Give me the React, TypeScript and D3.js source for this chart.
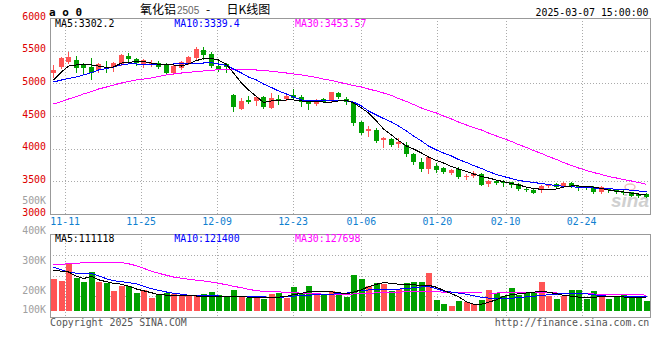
import React from "react";
import * as d3 from "d3";

const dates = [
  "2024-11-07","2024-11-08","2024-11-11","2024-11-12","2024-11-13","2024-11-14","2024-11-15","2024-11-18","2024-11-19","2024-11-20",
  "2024-11-21","2024-11-22","2024-11-25","2024-11-26","2024-11-27","2024-11-28","2024-11-29","2024-12-02","2024-12-03","2024-12-04",
  "2024-12-05","2024-12-06","2024-12-09","2024-12-10","2024-12-11","2024-12-12","2024-12-13","2024-12-16","2024-12-17","2024-12-18",
  "2024-12-19","2024-12-20","2024-12-23","2024-12-24","2024-12-25","2024-12-26","2024-12-27","2024-12-30","2024-12-31","2025-01-02",
  "2025-01-03","2025-01-06","2025-01-07","2025-01-08","2025-01-09","2025-01-10","2025-01-13","2025-01-14","2025-01-15","2025-01-16",
  "2025-01-17","2025-01-20","2025-01-21","2025-01-22","2025-01-23","2025-01-24","2025-01-27","2025-02-05","2025-02-06","2025-02-07",
  "2025-02-10","2025-02-11","2025-02-12","2025-02-13","2025-02-14","2025-02-17","2025-02-18","2025-02-19","2025-02-20","2025-02-21",
  "2025-02-24","2025-02-25","2025-02-26","2025-02-27","2025-02-28","2025-03-03","2025-03-04","2025-03-05","2025-03-06","2025-03-07",
];

const opens = [
  5163,5245,5327,5357,5281,5255,5204,5255,5250,5291, 5423,5368,5296,5290,5307,5281,5154,5230,5307,5392,
  5510,5449,5270,5296,4821,4607,4745,4734,4795,4627, 4756,4756,4821,4798,4730,4679,4760,4745,4857,4760,
  4710,4413,4278,4286,4140,4143,4071,4056,3918,3801, 3689,3735,3704,3635,3696,3559,3582,3617,3459,3505,
  3485,3485,3459,3383,3367,3360,3429,3464,3416,3475, 3429,3418,3406,3344,3378,3367,3337,3337,3299,3306,
];
const highs = [
  5281,5399,5484,5418,5307,5383,5307,5342,5331,5449, 5469,5392,5373,5357,5342,5311,5281,5346,5418,5552,
  5552,5484,5346,5316,4837,4776,4806,4806,4806,4857, 4821,4814,4909,4821,4745,4753,4776,4867,4867,4795,
  4714,4423,4352,4312,4174,4168,4159,4098,3934,3853, 3888,3781,3719,3689,3712,3612,3651,3635,3520,3520,
  3513,3497,3467,3406,3383,3451,3464,3475,3490,3490, 3436,3433,3421,3429,3398,3383,3360,3344,3321,3314,
];
const lows = [
  5102,5230,5307,5178,5154,5066,5173,5166,5189,5281, 5307,5281,5250,5265,5235,5143,5143,5215,5296,5380,
  5373,5255,5193,5178,4584,4600,4694,4676,4627,4622, 4684,4745,4760,4658,4607,4661,4707,4737,4771,4679,
  4362,4225,4199,4098,4030,4041,4021,3888,3765,3663, 3632,3648,3623,3612,3551,3531,3566,3439,3436,3459,
  3436,3409,3375,3352,3317,3337,3406,3406,3406,3406, 3360,3383,3329,3321,3344,3321,3299,3268,3260,3257,
];
const closes = [
  5204,5383,5399,5239,5239,5163,5291,5227,5316,5434, 5368,5316,5350,5304,5255,5163,5265,5331,5408,5521,
  5434,5270,5227,5245,4642,4730,4719,4795,4642,4776, 4734,4806,4771,4719,4684,4745,4719,4863,4795,4710,
  4398,4244,4301,4122,4159,4056,4098,3918,3801,3689, 3877,3669,3638,3669,3566,3589,3628,3448,3505,3475,
  3470,3451,3387,3363,3326,3436,3444,3416,3479,3421, 3413,3398,3344,3406,3360,3337,3317,3276,3283,3265,
];

const ma5 = [
  5051,5173,5265,5281,5281,5281,5265,5242,5250,5311, 5319,5334,5334,5311,5291,5281,5281,5265,5296,5349,
  5377,5383,5357,5288,5158,5005,4898,4798,4707,4730, 4737,4745,4745,4730,4722,4719,4714,4714,4730,4737,
  4699,4622,4546,4423,4301,4209,4125,4041,3995,3934, 3872,3819,3781,3727,3689,3650,3612,3574,3551,3520,
  3494,3467,3444,3413,3390,3378,3378,3383,3413,3429, 3429,3421,3413,3390,3367,3348,3337,3321,3306,3302.2,
];
const ma10 = [
  5020,5051,5074,5097,5128,5163,5204,5227,5250,5281, 5296,5296,5288,5281,5281,5288,5296,5304,5307,5307,
  5311,5316,5296,5273,5219,5158,5097,5051,4990,4936, 4883,4837,4791,4745,4740,4737,4734,4733,4730,4730,
  4714,4653,4577,4515,4462,4408,4347,4270,4194,4117, 4041,3980,3934,3888,3834,3788,3742,3696,3650,3605,
  3574,3543,3513,3497,3482,3467,3451,3436,3425,3416, 3410,3404,3398,3393,3386,3380,3373,3364,3352,3339.4,
];
const ma30 = [
  4684,4722,4760,4798,4837,4875,4913,4944,4974,5005, 5028,5051,5066,5082,5105,5128,5143,5158,5169,5178,
  5189,5199,5209,5215,5215,5215,5212,5204,5196,5186, 5173,5158,5143,5128,5112,5089,5066,5043,5020,4990,
  4967,4944,4913,4883,4852,4814,4768,4722,4676,4622, 4584,4546,4500,4454,4408,4362,4324,4286,4240,4194,
  4156,4110,4064,4018,3972,3926,3880,3834,3788,3742, 3704,3666,3635,3605,3574,3551,3528,3505,3482,3453.57,
];

// volume in thousands of lots
const volumes = [
  259,238,379,264,232,310,232,224,160,198, 198,144,166,104,131,144,134,123,123,123,
  134,152,126,118,166,123,104,112,96,134, 144,102,190,139,198,139,139,158,139,112,
  286,254,198,222,214,158,179,222,230,230, 302,86,54,43,78,70,54,86,166,144,
  118,182,126,144,150,230,123,96,118,166, 166,96,158,126,94,112,134,123,118,80,
];
const volMa5 = [
  326,318,312,278,259,278,250,234,222,214, 198,176,162,146,131,127,126,123,122,120,
  120,119,118,118,118,116,111,107,107,107, 110,118,130,142,154,155,158,154,146,138,
  150,170,194,214,227,222,214,211,209,206, 206,190,166,138,114,74,54,55,70,90,
  118,130,138,144,151,158,150,138,126,118, 111,107,110,115,115,114,112,110,108,107,
];
const volMa10 = [
  350,330,310,302,299,299,282,258,242,234, 227,218,198,178,166,152,142,134,126,124,
  122,121,120,119,119,118,118,115,113,110, 107,114,119,126,127,129,130,134,139,143,
  151,166,168,170,171,173,175,180,186,192, 195,178,160,151,143,134,122,110,103,99,
  96,102,107,113,118,124,130,135,139,139, 139,137,130,122,119,118,118,116,114,114,
];
const volMa30 = [
  372,374,378,382,386,387,387,387,387,387, 378,362,342,318,302,286,272,262,254,247,
  240,231,222,210,198,186,174,162,158,155, 153,150,146,143,140,138,135,134,131,134,
  136,138,142,145,147,150,151,153,154,155, 155,154,151,150,148,146,145,144,144,144,
  145,146,147,147,146,146,145,144,143,142, 140,138,136,134,132,131,130,129,128.5,127.7,
];
const volMaLegend = [111118, 121400, 127698];

const tickDates = ["2024-11-11","2024-11-25","2024-12-09","2024-12-23","2025-01-06","2025-01-20","2025-02-10","2025-02-24"];
const priceTicks = [6000, 5500, 5000, 4500, 4000, 3500, 3000];
const priceGrid = [5500, 5000, 4500, 4000, 3500];
const volTickValues = [500000, 400000, 300000, 200000, 100000];
const volTickLabels = ["500K", "400K", "300K", "200K", "100K"];

const RED = "#ff5454";
const GREEN = "#00a000";
const MONO = "'DejaVu Sans Mono', 'Liberation Mono', monospace";
const CJK = "'Noto Sans CJK SC', sans-serif";

export default function App() {
  const L = 50, R = 650;
  const mainTop = 18, mainBot = 214;
  const volTop = 234, volBot = 317, volBase = 311;

  const x = d3.scaleBand<string>().domain(dates).range([L, R]);
  const xg = d3.scalePoint<string>().domain(dates).range([L, R]);
  const y = d3.scaleLinear().domain([3000, 6000]).range([mainBot, mainTop]);
  const yv = d3.scaleLinear().domain([0, 600000]).range([volBase, volBase - 75]);
  const yvLabel = d3.scaleLinear().domain([500000, 200000]).range([204, 293.5]);

  const col = (i: number) => Math.floor((x(dates[i]) as number) + x.bandwidth() / 2);
  const ry = (v: number) => Math.round(y(v));

  const priceLine = (arr: number[]) =>
    d3.line<number>().x((_, i) => col(i) + 0.5).y((v) => y(v))(arr) as string;
  const volLine = (arr: number[]) =>
    d3.line<number>().x((_, i) => col(i) + 0.5).y((v) => yv(v * 1000))(arr) as string;

  const volGridYs = [1, 2, 3].map((k) => Math.round(volTop + (k * (volBot - volTop)) / 4) + 0.5);

  const fmt = (d: string) => d.slice(5);

  return (
    <svg width={660} height={360} style={{ position: "absolute", left: 0, top: 0, background: "#fff" }}>
      {/* header */}
      <text x={49} y={15.7} fontFamily={MONO} fontWeight="bold" fontSize={11} fill="#000">a o 0</text>
      <text x={140} y={14} fontFamily={CJK} fontSize={12} fill="#000">氧化铝</text>
      <text x={177} y={14} fontFamily="'Liberation Sans', sans-serif" fontSize={10} fill="#666">2505</text>
      <text x={206} y={14} fontFamily={CJK} fontSize={12} fill="#000">-</text>
      <text x={226.5} y={14} fontFamily={CJK} fontSize={12} fill="#000">日K线图</text>
      <text x={648.5} y={15.7} textAnchor="end" fontFamily={MONO} fontSize={9.9} fill="#000">2025-03-07 15:00:00</text>

      {/* main grid */}
      {priceGrid.map((v) => (
        <line key={"pg" + v} x1={L} x2={R} y1={ry(v) + 0.5} y2={ry(v) + 0.5} stroke="#aaa" strokeDasharray="1,2" />
      ))}
      {tickDates.map((d) => {
        const gx = Math.round(xg(d) as number) + 0.5;
        return (
          <g key={"vg" + d}>
            <line x1={gx} x2={gx} y1={mainTop} y2={mainBot} stroke="#aaa" strokeDasharray="1,2" />
            <line x1={gx} x2={gx} y1={volTop} y2={volBot} stroke="#aaa" strokeDasharray="1,2" />
          </g>
        );
      })}
      {volGridYs.map((gy) => (
        <line key={"vgy" + gy} x1={L} x2={R} y1={gy} y2={gy} stroke="#aaa" strokeDasharray="1,2" />
      ))}

      {/* axis labels */}
      {priceTicks.map((v) => (
        <text key={"pt" + v} x={46} y={y(v) + 1.5} textAnchor="end" fontFamily={MONO} fontSize={9.9} fill="#dd0000">{v}</text>
      ))}
      {volTickValues.map((v, i) => (
        <text key={"vt" + v} x={46} y={Math.min(yvLabel(v), 313.3)} textAnchor="end" fontFamily={MONO} fontSize={9.9} fill="#a0a0a0">{volTickLabels[i]}</text>
      ))}
      {tickDates.map((d) => (
        <text key={"xt" + d} x={xg(d) as number} y={225} textAnchor="middle" fontFamily={MONO} fontSize={9.9} fill="#1080d0">{fmt(d)}</text>
      ))}

      {/* watermark */}
      <ellipse cx={630} cy={187} rx={5} ry={3} fill="none" stroke="#f0c0c0" strokeWidth={1.5} />
      <text x={611} y={207} fontFamily="'Liberation Sans', sans-serif" fontStyle="italic" fontWeight="bold" fontSize={19} fill="#d0d0d0">sina</text>

      {/* candles */}
      {dates.map((d, i) => {
        const up = closes[i] >= opens[i];
        const c = up ? RED : GREEN;
        const cx = col(i);
        const top = ry(Math.max(opens[i], closes[i]));
        const bot = ry(Math.min(opens[i], closes[i]));
        return (
          <g key={"c" + d}>
            <line x1={cx + 0.5} x2={cx + 0.5} y1={ry(highs[i])} y2={ry(lows[i]) + 1} stroke={c} />
            <rect x={cx - 2} y={top} width={5} height={Math.max(1, bot - top)} fill={c} />
          </g>
        );
      })}

      {/* MA lines main */}
      <path d={priceLine(ma30)} fill="none" stroke="#ff00ff" strokeWidth={1} shapeRendering="crispEdges" />
      <path d={priceLine(ma10)} fill="none" stroke="#0000ff" strokeWidth={1} shapeRendering="crispEdges" />
      <path d={priceLine(ma5)} fill="none" stroke="#000" strokeWidth={1} shapeRendering="crispEdges" />

      {/* volume bars */}
      {dates.map((d, i) => {
        const up = closes[i] >= opens[i];
        const cx = col(i);
        const top = Math.round(yv(volumes[i] * 1000));
        return <rect key={"v" + d} x={cx - 2} y={top} width={6} height={volBase - top} fill={up ? RED : GREEN} />;
      })}
      <path d={volLine(volMa30)} fill="none" stroke="#ff00ff" strokeWidth={1} shapeRendering="crispEdges" />
      <path d={volLine(volMa10)} fill="none" stroke="#0000ff" strokeWidth={1} shapeRendering="crispEdges" />
      <path d={volLine(volMa5)} fill="none" stroke="#000" strokeWidth={1} shapeRendering="crispEdges" />

      {/* frames */}
      <rect x={L + 0.5} y={mainTop + 0.5} width={R - L} height={mainBot - mainTop} fill="none" stroke="#999" />
      <rect x={L + 0.5} y={volTop + 0.5} width={R - L} height={volBot - volTop} fill="none" stroke="#999" />

      {/* legends */}
      <text x={55} y={27.3} fontFamily={MONO} fontSize={9.9} fill="#000">{`MA5:${ma5[ma5.length - 1]}`}</text>
      <text x={174.3} y={27.3} fontFamily={MONO} fontSize={9.9} fill="#0000ff">{`MA10:${ma10[ma10.length - 1]}`}</text>
      <text x={295} y={27.3} fontFamily={MONO} fontSize={9.9} fill="#ff00ff">{`MA30:${ma30[ma30.length - 1]}`}</text>
      <text x={55} y={242.3} fontFamily={MONO} fontSize={9.9} fill="#000">{`MA5:${volMaLegend[0]}`}</text>
      <text x={174.3} y={242.3} fontFamily={MONO} fontSize={9.9} fill="#0000ff">{`MA10:${volMaLegend[1]}`}</text>
      <text x={295} y={242.3} fontFamily={MONO} fontSize={9.9} fill="#ff00ff">{`MA30:${volMaLegend[2]}`}</text>

      {/* footer */}
      <text x={50} y={326} fontFamily={MONO} fontSize={9.9} fill="#555">Copyright 2025 SINA.COM</text>
      <text x={649.3} y={326} textAnchor="end" fontFamily={MONO} fontSize={9.9} fill="#555">http://finance.sina.com.cn</text>
    </svg>
  );
}
